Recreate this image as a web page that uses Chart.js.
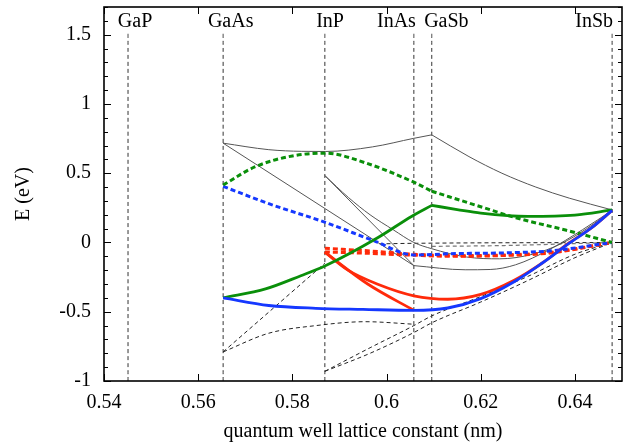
<!DOCTYPE html>
<html>
<head>
<meta charset="utf-8">
<script src="https://cdn.jsdelivr.net/npm/chart.js@4.4.1/dist/chart.umd.min.js"></script>
<style>
  html, body { margin: 0; padding: 0; background: #fff; }
</style>
</head>
<body>
<canvas id="chart" width="629" height="445"></canvas>
<script>
// binaries and their lattice constants (nm)
const compounds = ["GaP", "GaAs", "InP", "InAs", "GaSb", "InSb"];
const latticeConst = [0.5451, 0.5653, 0.5869, 0.6058, 0.6096, 0.6479];
const labelX = [0.5466, 0.5669, 0.5880, 0.6021, 0.6127, 0.6441];
const labelY = 1.555;
const markerTop = 1.51;

const xTicks = [0.54, 0.56, 0.58, 0.60, 0.62, 0.64];
const yTicks = [-1, -0.5, 0, 0.5, 1, 1.5];

// thick coloured curves
const greenSolidA = [[0.5653, -0.40], [0.5743, -0.335], [0.5818, -0.24], [0.587, -0.168], [0.5982, 0.036], [0.6053, 0.188], [0.6096, 0.268]];
const greenSolidB = [[0.6096, 0.268], [0.615, 0.238], [0.62, 0.212], [0.63, 0.188], [0.64, 0.198], [0.6479, 0.235]];
const greenDashA = [[0.5653, 0.415], [0.572, 0.545], [0.58, 0.625], [0.587, 0.645], [0.5955, 0.575], [0.6058, 0.435], [0.6096, 0.37]];
const greenDashB = [[0.6096, 0.37], [0.62, 0.258], [0.6275, 0.178], [0.638, 0.09], [0.6479, 0.0]];
const blueSolid = [[0.5653, -0.40], [0.575, -0.455], [0.585, -0.475], [0.595, -0.483], [0.6058, -0.49], [0.613, -0.473], [0.62, -0.405], [0.627, -0.285], [0.633, -0.15], [0.6388, -0.005], [0.6435, 0.105], [0.6479, 0.232]];
const blueDash = [[0.5653, 0.405], [0.575, 0.28], [0.587, 0.145], [0.5975, 0.01], [0.6058, -0.09], [0.615, -0.08], [0.625, -0.075], [0.635, -0.06], [0.6479, 0.0]];
const redSolidA = [[0.5869, -0.07], [0.596, -0.3], [0.6058, -0.49]];
const redSolidB = [[0.5869, -0.07], [0.5918, -0.2], [0.598, -0.3], [0.6058, -0.385], [0.613, -0.41], [0.62, -0.375], [0.627, -0.275], [0.633, -0.15], [0.6388, -0.002], [0.6435, 0.105], [0.6479, 0.232]];
const redDashA = [[0.5869, -0.042], [0.596, -0.06], [0.6058, -0.085], [0.615, -0.095], [0.625, -0.09], [0.635, -0.07], [0.6479, 0.0]];
const redDashB = [[0.5869, -0.068], [0.596, -0.078], [0.6058, -0.092], [0.615, -0.1], [0.625, -0.094], [0.635, -0.075], [0.6479, 0.0]];

// thin grey solid curves
const greyA = [[0.5653, 0.717], [0.575, 0.67], [0.582, 0.658], [0.587, 0.657], [0.597, 0.69], [0.6058, 0.752], [0.6096, 0.777]];
const greyB = [[0.6096, 0.777], [0.6175, 0.62], [0.6245, 0.5], [0.6317, 0.4], [0.6388, 0.32], [0.6479, 0.235]];
const greyC = [[0.5653, 0.717], [0.6058, -0.167]];
const greyD = [[0.6058, -0.167], [0.6167, -0.197], [0.622, -0.195], [0.6274, -0.161], [0.6345, -0.053], [0.6416, 0.092], [0.6479, 0.232]];
const greyE = [[0.5869, 0.483], [0.5919, 0.325], [0.5965, 0.2], [0.6015, 0.09], [0.6058, 0.0], [0.6096, -0.045], [0.617, -0.105], [0.624, -0.118], [0.631, -0.085], [0.637, -0.01], [0.6425, 0.1], [0.6479, 0.232]];
const greyF = [[0.5869, 0.483], [0.6058, -0.167]];

// thin black dashed curves
const dashA = [[0.5653, -0.79], [0.5869, -0.15]];
const dashB = [[0.5653, -0.79], [0.575, -0.655], [0.585, -0.6], [0.5955, -0.572], [0.6058, -0.59]];
const dashC = [[0.5869, -0.93], [0.5965, -0.76], [0.6058, -0.6], [0.6096, -0.53], [0.62, -0.39], [0.63, -0.245], [0.64, -0.085], [0.6479, 0.0]];
const dashD = [[0.5869, -0.93], [0.5965, -0.8], [0.6058, -0.65], [0.6096, -0.58], [0.62, -0.43], [0.63, -0.275], [0.64, -0.11], [0.6479, 0.0]];
const dashE = [[0.5985, -0.01], [0.6058, -0.006], [0.6479, 0.0]];
const dashF = [[0.6096, -0.028], [0.625, -0.022], [0.6479, 0.0]];

const GREEN = "#0a8f0a";
const BLUE = "#1538ff";
const RED = "#ff2a0a";
const GREY = "#555555";

function pts(arr) {
    return arr.map(p => ({ x: p[0], y: p[1] }));
}

function line(arr, color, width, dash) {
    return {
        data: pts(arr),
        showLine: true,
        borderColor: color,
        borderWidth: width,
        borderDash: dash || [],
        pointRadius: 0,
        cubicInterpolationMode: "monotone",
        fill: false
    };
}

// bottom to top
const datasets = [];
latticeConst.forEach(a => {
    datasets.push(line([[a, -1], [a, markerTop]], "#333", 1, [4, 3]));
});
[dashA, dashB, dashC, dashD, dashE].forEach(d => datasets.push(line(d, "#222", 1, [4, 3])));
datasets.push(line(dashF, "#777", 1.2, [4, 3]));
[greyA, greyB, greyC, greyD, greyE, greyF].forEach(d => datasets.push(line(d, GREY, 1)));
datasets.push(line(redDashA, RED, 3, [5, 3]));
datasets.push(line(redDashB, RED, 3, [5, 3]));
datasets.push(line(blueDash, BLUE, 3, [5, 3]));
datasets.push(line(greenDashA, GREEN, 3, [5, 3]));
datasets.push(line(greenDashB, GREEN, 3, [5, 3]));
datasets.push(line(redSolidA, RED, 2.8));
datasets.push(line(redSolidB, RED, 2.8));
datasets.push(line(greenSolidA, GREEN, 2.8));
datasets.push(line(greenSolidB, GREEN, 2.8));
datasets.push(line(blueSolid, BLUE, 2.8));
datasets.forEach((d, i) => { d.order = -i; });

const FONT = '"Liberation Serif", "DejaVu Serif", serif';

const framePlugin = {
    id: "frame",
    afterDatasetsDraw(chart) {
        const { ctx, chartArea: a, scales: { x, y } } = chart;
        ctx.save();
        ctx.strokeStyle = "#000";
        ctx.lineWidth = 1;
        ctx.beginPath();
        xTicks.forEach(v => {
            const px = Math.round(x.getPixelForValue(v)) + 0.5;
            ctx.moveTo(px, a.bottom); ctx.lineTo(px, a.bottom - 7);
            ctx.moveTo(px, a.top); ctx.lineTo(px, a.top + 7);
        });
        for (let i = 0; i <= 27; i++) {
            const v = -1 + i * 0.1;
            const py = Math.round(y.getPixelForValue(v)) + 0.5;
            const len = i % 5 === 0 ? 7 : 4;
            ctx.moveTo(a.left, py); ctx.lineTo(a.left + len, py);
            ctx.moveTo(a.right, py); ctx.lineTo(a.right - len, py);
        }
        ctx.stroke();
        ctx.lineWidth = 1.6;
        ctx.strokeRect(a.left, a.top, a.right - a.left, a.bottom - a.top);

        ctx.fillStyle = "#000";
        ctx.font = "20px " + FONT;
        ctx.textAlign = "center";
        ctx.textBaseline = "alphabetic";
        compounds.forEach((c, i) => {
            ctx.fillText(c, x.getPixelForValue(labelX[i]), y.getPixelForValue(labelY));
        });
        ctx.restore();
    }
};

new Chart(document.getElementById("chart"), {
    type: "scatter",
    data: { datasets },
    options: {
        responsive: false,
        animation: false,
        devicePixelRatio: 1,
        layout: { padding: { left: 0, right: 7, top: 7, bottom: 0 } },
        plugins: { legend: { display: false }, tooltip: { enabled: false } },
        scales: {
            x: {
                type: "linear",
                min: 0.54,
                max: 0.65,
                grid: { display: false, drawTicks: false },
                border: { display: false },
                afterBuildTicks: s => { s.ticks = xTicks.map(v => ({ value: v })); },
                afterFit: s => { s.height = 64; s.paddingLeft = 0; s.paddingRight = 0; },
                ticks: {
                    padding: 10,
                    color: "#000",
                    font: { family: FONT, size: 20 },
                    callback: v => String(Math.round(v * 100) / 100)
                },
                title: {
                    display: true,
                    text: "quantum well lattice constant (nm)",
                    color: "#000",
                    font: { family: FONT, size: 20 },
                    padding: { top: 0, bottom: 1 }
                }
            },
            y: {
                type: "linear",
                min: -1,
                max: 1.7,
                grid: { display: false, drawTicks: false },
                border: { display: false },
                afterBuildTicks: s => { s.ticks = yTicks.map(v => ({ value: v })); },
                afterFit: s => { s.width = 104; s.paddingTop = 0; s.paddingBottom = 0; },
                ticks: {
                    padding: 13,
                    color: "#000",
                    font: { family: FONT, size: 20 },
                    callback: v => String(Math.round(v * 10) / 10)
                },
                title: {
                    display: true,
                    text: "E (eV)",
                    color: "#000",
                    font: { family: FONT, size: 20 },
                    padding: { top: 12, bottom: 0 }
                }
            }
        }
    },
    plugins: [framePlugin]
});
</script>
</body>
</html>
